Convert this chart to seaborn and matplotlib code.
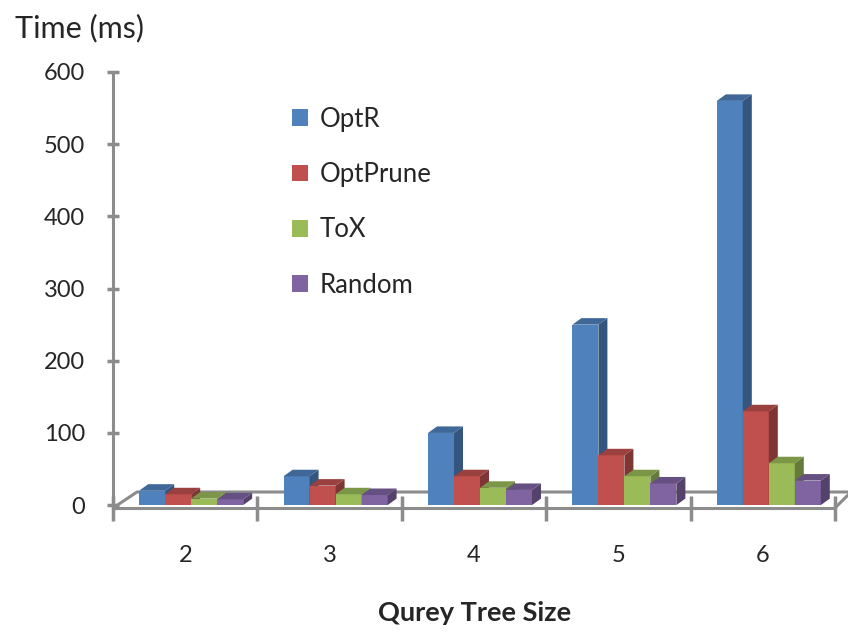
import numpy as np
import pandas as pd
import matplotlib
matplotlib.use("Agg")
import matplotlib.pyplot as plt
import matplotlib.colors as mcolors
from matplotlib.patches import Polygon
import seaborn as sns

# ---- data ----
sizes = ["2", "3", "4", "5", "6"]
methods = ["OptR", "OptPrune", "ToX", "Random"]
optr = [20, 40, 100, 250, 560]
optprune = [15, 27, 40, 69, 130]
tox = [9, 15, 24, 40, 58]
rand = [8, 14, 21, 30, 34]
colors = ["#4F81BD", "#C0504D", "#9BBB59", "#8064A2"]

rows = []
for m, vals in zip(methods, [optr, optprune, tox, rand]):
    for s, v in zip(sizes, vals):
        rows.append({"size": s, "method": m, "time": v})
df = pd.DataFrame(rows)

sns.set_style("white")
plt.rcParams["font.family"] = ["Lato", "DejaVu Sans"]

W, H = 848, 633
fig = plt.figure(figsize=(W / 100, H / 100), dpi=100)
ax_l, ax_r, ax_t, ax_b = 113, 835, 72, 508
ax = fig.add_axes([ax_l / W, 1 - ax_b / H, (ax_r - ax_l) / W, (ax_b - ax_t) / H])

sns.barplot(data=df, x="size", y="time", hue="method", hue_order=methods,
            palette=colors, saturation=1, width=0.72, errorbar=None,
            linewidth=0, ax=ax)

ymin, ymax = -4, 600
ax.set_xlim(-0.5, 4.5)
ax.set_ylim(ymin, ymax)

px_x = (ax_r - ax_l) / 5.0          # pixels per category
px_y = (ax_b - ax_t) / (ymax - ymin)  # pixels per unit
dx = 9 / px_x
dy = 6.5 / px_y
shift = 6 / px_x

def shade(c, f):
    r, g, b, a = mcolors.to_rgba(c)
    return (r * f, g * f, b * f, 1)

bars = []
for cont in ax.containers:
    for p in cont:
        bars.append(p)
bars.sort(key=lambda p: p.get_x())
for k, p in enumerate(bars):
    x0 = p.get_x() + shift
    p.set_x(x0)
    w, h = p.get_width(), p.get_height()
    fc = p.get_facecolor()
    p.set_zorder(2 + 2 * k)
    side = Polygon([(x0 + w, 0), (x0 + w + dx, dy), (x0 + w + dx, h + dy), (x0 + w, h)],
                   closed=True, facecolor=shade(fc, 0.66), edgecolor="none", zorder=3 + 2 * k)
    top = Polygon([(x0, h), (x0 + dx, h + dy), (x0 + w + dx, h + dy), (x0 + w, h)],
                  closed=True, facecolor=shade(fc, 0.8), edgecolor="none", zorder=3 + 2 * k)
    ax.add_patch(side)
    ax.add_patch(top)

gray = "#8C8C8C"
# floor
fdx = 24 / px_x
fdy = 16 / px_y
ax.plot([-0.5, -0.5 + fdx, 4.5 + 13 / px_x], [ymin, ymin + fdy, ymin + fdy],
        color=gray, lw=2.2, clip_on=False, zorder=1, solid_capstyle="butt")
ax.plot([4.5, 4.5 + 13 / px_x], [ymin, ymin + 13 / px_y], color=gray, lw=2.2,
        clip_on=False, zorder=1)

for s in ["top", "right"]:
    ax.spines[s].set_visible(False)
for s in ["left", "bottom"]:
    ax.spines[s].set_color(gray)
    ax.spines[s].set_linewidth(2.2)

ax.set_yticks(np.arange(0, 601, 100))
ax.tick_params(axis="y", direction="inout", length=8, width=2.5, color=gray,
               labelsize=17, pad=16, left=True)
ax.set_xticks(range(5))
ax.set_xticklabels(sizes)
ax.set_xticks(np.arange(-0.5, 4.6, 1), minor=True)
ax.tick_params(axis="x", which="major", length=0, labelsize=17, pad=27)
ax.tick_params(axis="x", which="minor", direction="inout", length=18, width=2.5,
               color=gray, bottom=True)
ax.set_xlabel("")
ax.set_ylabel("")
ax.grid(False)

leg = ax.legend(loc="upper left", bbox_to_anchor=((279 - ax_l) / (ax_r - ax_l), 1 - (94 - ax_t) / (ax_b - ax_t)),
                frameon=False, fontsize=18.5, labelspacing=1.18, handlelength=0.62,
                handleheight=0.62, handletextpad=0.45, borderpad=0)

fig.text(15 / W, 1 - 28 / H, "Time (ms)", fontsize=22, ha="left", va="center")
fig.text(475 / W, 1 - 613 / H, "Qurey Tree Size", fontsize=19.5, fontweight="bold",
         ha="center", va="center")

fig.savefig("out.png", dpi=100)
